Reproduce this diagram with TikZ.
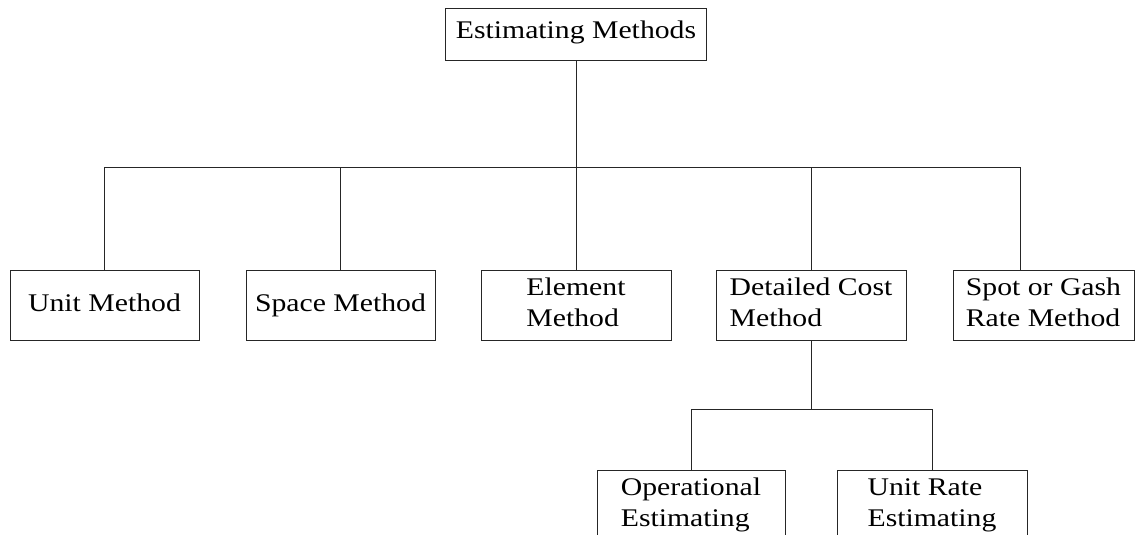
\documentclass[tikz,border=0pt]{standalone}
\usepackage{fontspec}
\setmainfont{Liberation Serif}[FakeStretch=1.17]
\tikzset{
  box/.style={draw=black!85, line width=1pt, minimum height=70pt, inner sep=0pt,
    font=\fontsize{25.4}{31}\selectfont},
  conn/.style={draw=black!85, line width=1pt},
}
\newcommand\blk[1]{\begin{tabular}{@{}l@{}}#1\end{tabular}}
\begin{document}
\begin{tikzpicture}[x=1pt,y=-1pt]
\useasboundingbox (0,0) rectangle (1137,535);
\clip (0,0) rectangle (1137,535);
\node[box, minimum width=261pt, minimum height=52pt, text height=14pt, text depth=8pt] (top) at (576,35) {Estimating Methods};
\node[box, minimum width=189pt] (b1) at (104.5,305) {\blk{Unit Method}};
\node[box, minimum width=189pt] (b2) at (340.5,305) {\blk{Space Method}};
\node[box, minimum width=190pt] (b3) at (576,305) {\blk{Element\\Method}};
\node[box, minimum width=190pt] (b4) at (811,305) {\blk{Detailed Cost\\Method}};
\node[box, minimum width=181pt] (b5) at (1043.5,305) {\blk{Spot or Gash\\Rate Method}};
\node[box, minimum width=188pt] (c1) at (691,505) {\blk{Operational\\Estimating}};
\node[box, minimum width=190pt] (c2) at (932,505) {\blk{Unit Rate\\Estimating}};
\coordinate (bar) at (576,167);
\coordinate (sub) at (811,409);
\coordinate (b5in) at ([xshift=-23.5pt]b5.north);
\draw[conn] (top.south) -- (bar);
\draw[conn] (b1.north) |- (bar);
\draw[conn] (b2.north) |- (bar);
\draw[conn] (b3.north) -- (bar);
\draw[conn] (b4.north) |- (bar);
\draw[conn] (b5in) |- (bar);
\draw[conn] (b4.south) -- (sub);
\draw[conn] (c1.north) |- (sub);
\draw[conn] (c2.north) |- (sub);
\end{tikzpicture}
\end{document}
